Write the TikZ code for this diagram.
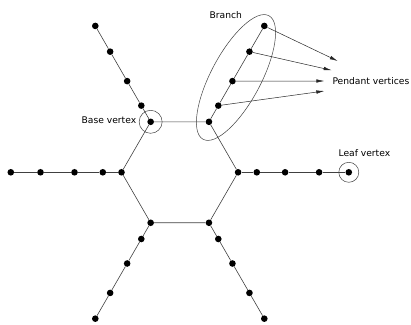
\documentclass[tikz,border=0pt]{standalone}
\usepackage{fontspec}
\setmainfont{DejaVu Sans}
\usetikzlibrary{arrows.meta,positioning}

\tikzset{
  dot/.style={circle,fill=black,inner sep=0pt,minimum size=6.6bp},
  edge/.style={draw=black!75,line width=0.6bp},
  ring/.style={circle,draw=black!75,line width=0.5bp,inner sep=0pt,minimum size=#1},
  lbl/.style={inner sep=0pt,font=\fontsize{9.2}{11}\selectfont},
  pointer/.style={draw=black!85,line width=0.5bp,-{Latex[length=8bp,width=3.5bp]}}
}

\begin{document}
\begin{tikzpicture}[x=1bp,y=1bp]
    \useasboundingbox (0,0) rectangle (411,325);
    \coordinate (c) at (179.8,152.7);

    % hexagon corners and the arms
    \foreach \a/\n in {0/r,60/ur,120/ul,180/l,240/ll,300/lr}{
        \node[dot] (h\n) at ([shift={(\a:58.3)}]c) {};
        \foreach \d [count=\k] in {18.7,47,81,110.7}{
            \pgfmathsetmacro\rr{58.3+\d}
            \node[dot] (\n\k) at ([shift={(\a:\rr)}]c) {};
        }
        \draw[edge] (h\n) -- (\n1) -- (\n2) -- (\n3) -- (\n4);
    }
    \draw[edge] (hr) -- (hur) -- (hul) -- (hl) -- (hll) -- (hlr) -- (hr);

    % marked vertices
    \node[ring=23bp] (base) at (hul) {};
    \node[ring=20bp] (leaf) at (r4) {};
    \draw[black!75,line width=0.5bp,rotate around={62:(236,247.5)}] (236,247.5) ellipse [x radius=70,y radius=25];

    % labels
    \node[lbl,left=2.5bp of base,yshift=2bp] {Base vertex};
    \node[lbl] at (364.4,172.3) {Leaf vertex};
    \node[lbl] at (225.8,310) {Branch};
    \node[lbl,anchor=west] (pv) at (332.3,244) {Pendant vertices};

    \coordinate (p1) at (324.3,234);
    \coordinate (p2) at (324.3,244);
    \coordinate (p3) at (331.7,254.7);
    \coordinate (p4) at (337.7,264);
    \foreach \k in {1,2,3,4}{
        \draw[pointer] (ur\k) -- (p\k);
    }
\end{tikzpicture}
\end{document}
